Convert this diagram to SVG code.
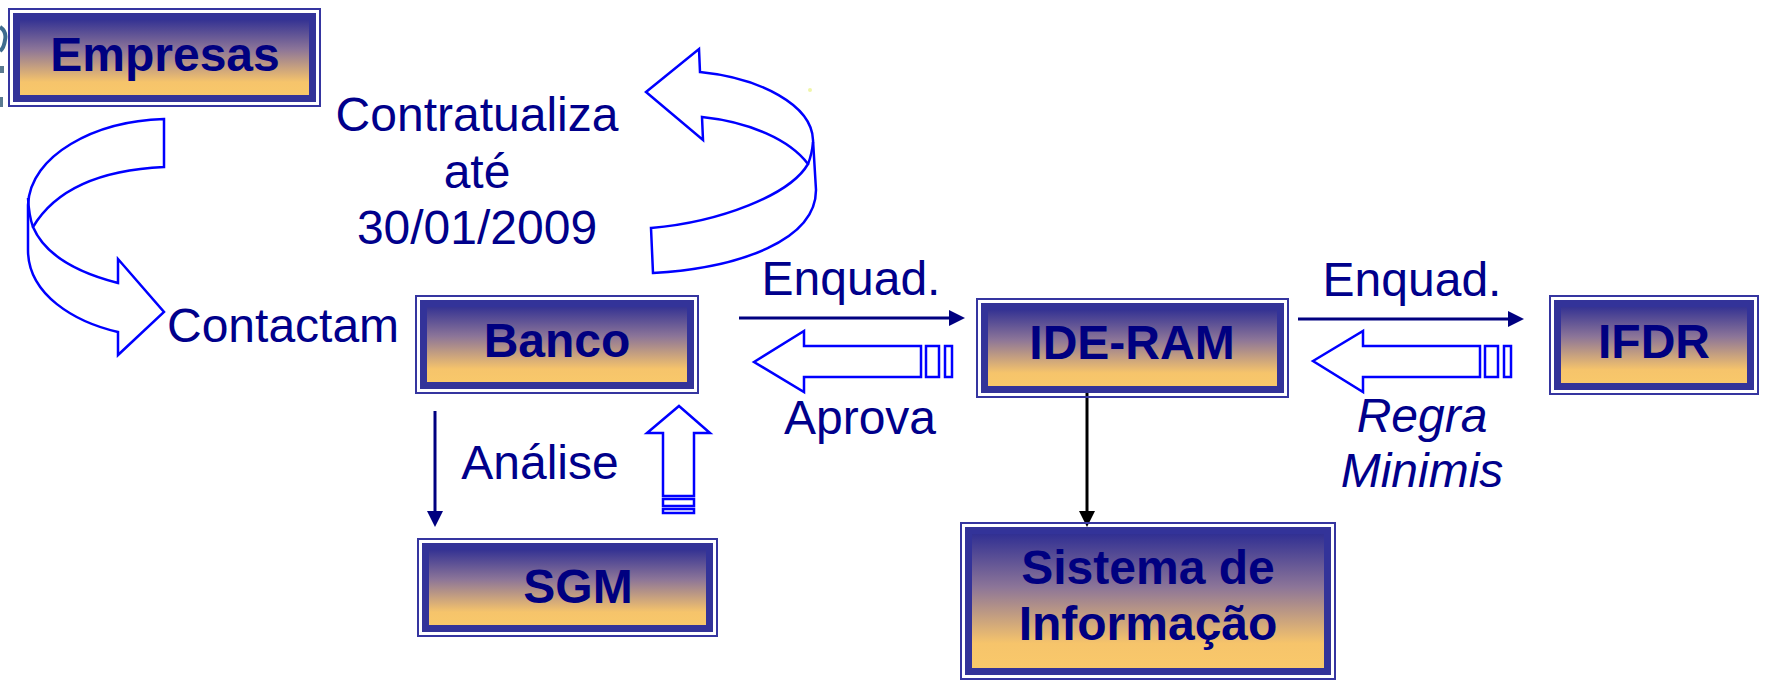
<svg xmlns="http://www.w3.org/2000/svg" width="1768" height="685" viewBox="0 0 1768 685">
<defs>
<linearGradient id="boxfill" x1="0" y1="0" x2="0" y2="1">
<stop offset="0" stop-color="#2b2b92"/>
<stop offset="0.4" stop-color="#8c7598"/>
<stop offset="0.8" stop-color="#f6c46b"/>
<stop offset="1" stop-color="#f9c96a"/>
</linearGradient>
<marker id="navyHead" markerUnits="userSpaceOnUse" markerWidth="16" markerHeight="16" viewBox="0 0 16 16" refX="2" refY="8" orient="auto">
<path d="M0,0 L16,8 L0,16 Z" fill="#000080"/>
</marker>
<marker id="blackHead" markerUnits="userSpaceOnUse" markerWidth="16" markerHeight="16" viewBox="0 0 16 16" refX="2" refY="8" orient="auto">
<path d="M0,0 L16,8 L0,16 Z" fill="#000000"/>
</marker>
</defs>
<style>
.fo{fill:none;stroke:#3535a0;stroke-width:2}
.fi{fill:url(#boxfill);stroke:#333399;stroke-width:7}
.bt{font-family:"Liberation Sans",Arial,sans-serif;font-weight:bold;font-size:48px;fill:#000080;text-anchor:middle}
.lb{font-family:"Liberation Sans",Arial,sans-serif;font-size:48px;fill:#00008b;text-anchor:middle}
.it{font-style:italic}
.hol{fill:#ffffff;stroke:#0000ff;stroke-width:2.5;stroke-linejoin:miter}
.fold{fill:none;stroke:#0000ff;stroke-width:2.5}
.nl{stroke:#000080;stroke-width:3;fill:none}
.bl{stroke:#000000;stroke-width:3;fill:none}
</style>
<rect width="1768" height="685" fill="#ffffff"/>
<g id="logo-fragment">
<path d="M0,27 Q7,32 5,40 Q4,48 0,51" fill="none" stroke="#3f6c8f" stroke-width="4"/>
<rect x="0" y="66" width="4" height="7" fill="#5a7a90"/>
<rect x="0" y="97" width="3" height="10" fill="#5a7a90"/>
</g>
<circle cx="810" cy="90" r="2" fill="#e6ee70" opacity="0.6"/>

<g id="connectors">
<g id="curved-contactam">
<path class="hol" d="M164,119 C95,121 30,155 28,205 L28,250 C28,295 75,322 118,332 L118,355 L164,312 L118,259 L118,283 C75,272 45,255 33,227 C55,190 100,170 164,167 Z"/>
<path class="fold" d="M28,198 Q29,216 33,227"/>
</g>
<g id="curved-contratualiza">
<path class="hol" d="M646,92 L699,49 L700,72 C760,78 812,105 813,140 L816,190 C816,240 740,268 653,273 L651,228 C720,222 790,195 808,164 C790,140 750,122 702,117 L703,140 Z"/>
<path class="fold" d="M813,142 Q812,154 808,164"/>
</g>
<line class="nl" x1="739" y1="318" x2="951" y2="318" marker-end="url(#navyHead)"/>
<line class="nl" x1="1298" y1="319" x2="1510" y2="319" marker-end="url(#navyHead)"/>
<line class="nl" x1="435" y1="411" x2="435" y2="513" marker-end="url(#navyHead)"/>
<line class="bl" x1="1087" y1="392" x2="1087" y2="513" marker-end="url(#blackHead)"/>
<g id="hollow-aprova">
<path class="hol" d="M754,362 L804,331 L804,346 L921,346 L921,377 L804,377 L804,392 Z"/>
<rect class="hol" x="926" y="346" width="13" height="31"/>
<rect class="hol" x="945" y="346" width="7" height="31"/>
</g>
<g id="hollow-regra">
<path class="hol" d="M1313,361 L1363,331 L1363,346 L1480,346 L1480,377 L1363,377 L1363,392 Z"/>
<rect class="hol" x="1485" y="346" width="13" height="31"/>
<rect class="hol" x="1504" y="346" width="7" height="31"/>
</g>
<g id="hollow-up">
<path class="hol" d="M679,406 L710,433 L694,433 L694,496 L663,496 L663,433 L647,433 Z"/>
<rect class="hol" x="663" y="499" width="31" height="7"/>
<rect class="hol" x="663" y="509" width="31" height="4"/>
</g>
</g>

<g id="labels">
<text class="lb" x="477" y="131">Contratualiza</text>
<text class="lb" x="477" y="188">até</text>
<text class="lb" x="477" y="244">30/01/2009</text>
<text class="lb" x="167" y="342" style="text-anchor:start">Contactam</text>
<text class="lb" x="851" y="295">Enquad.</text>
<text class="lb" x="860" y="434">Aprova</text>
<text class="lb" x="540" y="479">Análise</text>
<text class="lb" x="1412" y="296">Enquad.</text>
<text class="lb it" x="1422" y="432">Regra</text>
<text class="lb it" x="1422" y="487">Minimis</text>
</g>

<g id="empresas">
<rect class="fo" x="9" y="9" width="311" height="97"/>
<rect class="fi" x="16.5" y="16.5" width="296" height="82"/>
<text class="bt" x="165" y="71">Empresas</text>
</g>
<g id="banco">
<rect class="fo" x="416" y="296" width="282" height="97"/>
<rect class="fi" x="423.5" y="303.5" width="267" height="82"/>
<text class="bt" x="557" y="357">Banco</text>
</g>
<g id="ide-ram">
<rect class="fo" x="977" y="299" width="311" height="98"/>
<rect class="fi" x="984.5" y="306.5" width="296" height="83"/>
<text class="bt" x="1132" y="359">IDE-RAM</text>
</g>
<g id="ifdr">
<rect class="fo" x="1550" y="296" width="208" height="98"/>
<rect class="fi" x="1557.5" y="303.5" width="193" height="83"/>
<text class="bt" x="1654" y="358">IFDR</text>
</g>
<g id="sgm">
<rect class="fo" x="418" y="539" width="299" height="97"/>
<rect class="fi" x="425.5" y="546.5" width="284" height="82"/>
<text class="bt" x="578" y="603">SGM</text>
</g>
<g id="sistema-informacao">
<rect class="fo" x="961" y="523" width="374" height="156"/>
<rect class="fi" x="968.5" y="530.5" width="359" height="141"/>
<text class="bt" x="1148" y="584">Sistema de</text>
<text class="bt" x="1148" y="640">Informação</text>
</g>
</svg>
